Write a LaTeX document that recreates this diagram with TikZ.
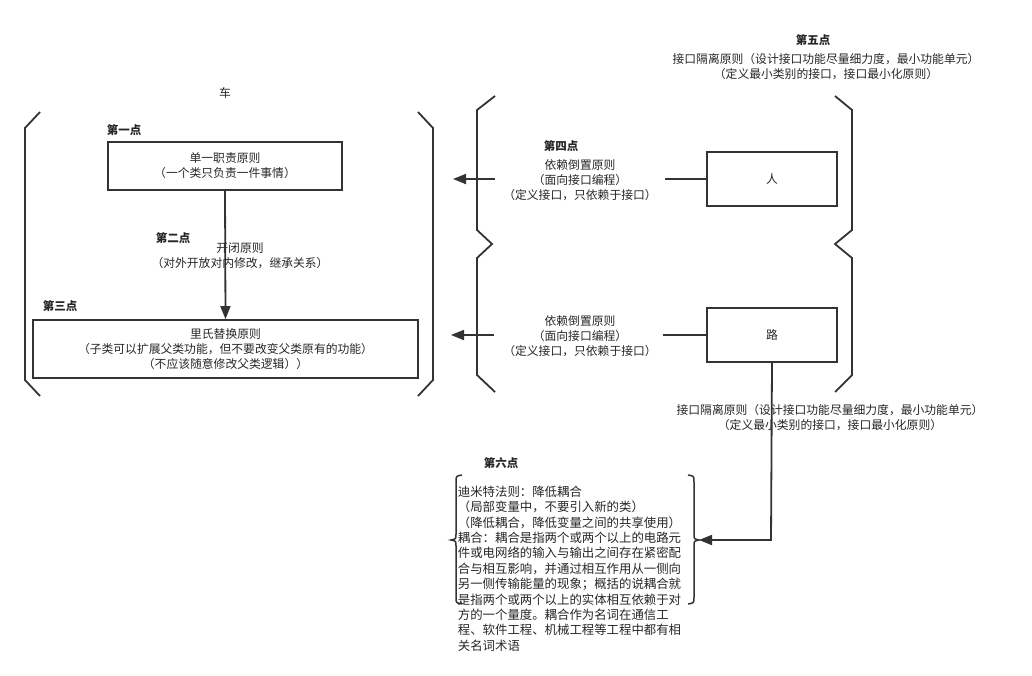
\documentclass[tikz,border=0pt]{standalone}
\usepackage{fontspec}
\setmainfont{Noto Sans CJK SC}
\usetikzlibrary{arrows.meta}
\begin{document}
\begin{tikzpicture}[x=1pt,y=-1pt,
  line width=1.8pt, draw=black!80,
  t/.style={font=\fontsize{11.8}{15}\selectfont, align=center, inner sep=0pt, text=black!85},
  b/.style={t, font=\fontsize{11.5}{15}\selectfont\bfseries},
  box/.style={draw=black!80, line width=1.8pt, minimum width=0pt, inner sep=0pt},
  arr/.style={-{Triangle[length=13pt,width=10pt]}},
  brk/.style={line width=1.8pt, draw=black!80}]
\useasboundingbox (0,0) rectangle (1032,675);
% left bracket
\draw[brk] (40,112)--(25,128)--(25,380)--(40,396);
\draw[brk] (418,112)--(433,128)--(433,380)--(418,396);
\node[t] (che) at (225,93) {车};
\node[b] (p1) at (124,130) {第一点};
\node[box] (dz) at (225,166) [minimum width=234pt, minimum height=48pt] {};
\node[t] at (dz) {单一职责原则\\（一个类只负责一件事情）};
\node[box] (ls) at (225.5,349) [minimum width=385pt, minimum height=58pt] {};
\node[t] at (ls) {里氏替换原则\\（子类可以扩展父类功能，但不要改变父类原有的功能）\\（不应该随意修改父类逻辑））};
\node[b] (p3) at (60,306) {第三点};
\node[b] (p2) at (173,238) {第二点};
\draw[arr] (dz.south) -- (ls.north);
\node[t] (kb) at (240,256) {开闭原则\\（对外开放对内修改，继承关系）};
% middle braces
\draw[brk] (495,96)--(477,110)--(477,230)--(492,244)--(477,258)--(477,375)--(495,392);
\draw[brk] (835,96)--(852,110)--(852,230)--(835,244)--(852,258)--(852,375)--(835,392);
\node[box] (ren) at (772,179) [minimum width=130pt, minimum height=54pt] {};
\node[t] at (ren) {人};
\node[box] (lu) at (772,335) [minimum width=130pt, minimum height=54pt] {};
\node[t] at (lu) {路};
\node[b] (p4) at (561,146) {第四点};
\node[t] (y1) at (580,180) {依赖倒置原则\\（面向接口编程）\\（定义接口，只依赖于接口）};
\node[t] (y2) at (580,336) {依赖倒置原则\\（面向接口编程）\\（定义接口，只依赖于接口）};
\coordinate (a1s) at (495,179); \coordinate (a1e) at (453,179);
\coordinate (a2s) at (494,335); \coordinate (a2e) at (451,335);
\draw (ren.west) -- (665,179);
\draw (lu.west) -- (663,335);
\draw[arr] (a1s) -- (a1e);
\draw[arr] (a2s) -- (a2e);
\node[b] (p5) at (813,40) {第五点};
\node[t] (g1) at (826,67) {接口隔离原则（设计接口功能尽量细力度，最小功能单元）\\（定义最小类别的接口，接口最小化原则）};
% sixth
\node[b] (p6) at (501,463) {第六点};
\draw[brk, line width=1.5pt] (462,475) .. controls (456,476) .. (456,482) -- (456,534) .. controls (456,539) .. (451,540) .. controls (456,541) .. (456,546) -- (456,597) .. controls (456,603) .. (462,604);
\draw[brk, line width=1.5pt] (688,475) .. controls (694,476) .. (694,482) -- (694,534) .. controls (694,539) .. (699,540) .. controls (694,541) .. (694,546) -- (694,597) .. controls (694,603) .. (688,604);
\node[t, align=left, anchor=north west, font=\fontsize{12.4}{15.4}\selectfont] (txt) at (457,485) {迪米特法则：降低耦合\\（局部变量中，不要引入新的类）\\（降低耦合，降低变量之间的共享使用）\\耦合：耦合是指两个或两个以上的电路元\\件或电网络的输入与输出之间存在紧密配\\合与相互影响，并通过相互作用从一侧向\\另一侧传输能量的现象；概括的说耦合就\\是指两个或两个以上的实体相互依赖于对\\方的一个量度。耦合作为名词在通信工\\程、软件工程、机械工程等工程中都有相\\关名词术语};
\coordinate (c1) at (771,540);
\coordinate (c2) at (699,540);
\draw[arr] (lu.south) -- (c1) -- (c2);
\node[t] (g2) at (830,418) {接口隔离原则（设计接口功能尽量细力度，最小功能单元）\\（定义最小类别的接口，接口最小化原则）};
\end{tikzpicture}
\end{document}
